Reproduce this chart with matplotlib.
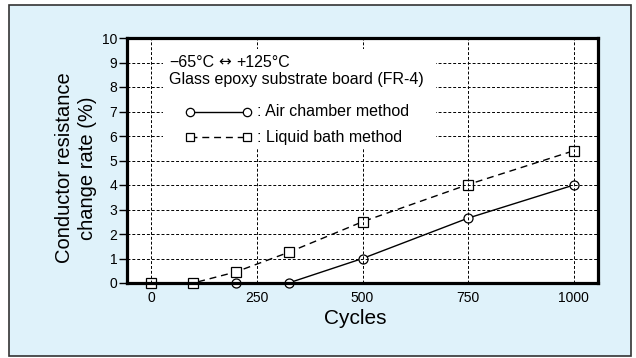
import matplotlib
matplotlib.use("Agg")
import matplotlib.pyplot as plt
from matplotlib.patches import Rectangle

plt.rcParams['font.family'] = ['Liberation Sans', 'DejaVu Sans']

# data
cycles_air = [0, 100, 200, 325, 500, 750, 1000]
air_chamber = [0, 0, 0, 0, 1.0, 2.65, 4.0]
cycles_liq = [0, 100, 200, 325, 500, 750, 1000]
liquid_bath = [0, 0, 0.45, 1.25, 2.5, 4.02, 5.4]
x_ticks = [0, 250, 500, 750, 1000]
y_ticks = list(range(0, 11))

W, H = 636, 358
fig = plt.figure(figsize=(W/100, H/100), dpi=100)
fig.patch.set_facecolor('white')

# light blue panel with dark border
panel = Rectangle((9/W, 1-356/H), 622/W, 351/H, transform=fig.transFigure,
                  facecolor='#dff2fa', edgecolor='#333333', linewidth=1.2,
                  zorder=-5)
fig.patches.append(panel)

ax = fig.add_axes([127/W, 1-283/H, 471/W, 245/H])
ax.set_zorder(2)
ax.set_facecolor('white')
ax.set_xlim(-57, 1057)
ax.set_ylim(0, 10)

ax.set_axisbelow(False)
ax.set_xticks(x_ticks)
ax.set_yticks(y_ticks)
ax.grid(True, color='black', linestyle=(0, (3, 2)), linewidth=0.7)
ax.tick_params(axis='y', direction='out', length=6, width=1, pad=1, labelsize=10)
ax.tick_params(axis='x', length=0, pad=6, labelsize=10)
for s in ax.spines.values():
    s.set_linewidth(2.3)
    s.set_zorder(5)

# white area behind the annotations hides the grid
ax.add_patch(Rectangle((0.077, 0.545), 0.578, 0.41, transform=ax.transAxes,
                       facecolor='white', edgecolor='none', zorder=3))

ax.plot(cycles_air, air_chamber, color='black', linewidth=1.0,
        marker='o', markersize=6.5, markerfacecolor='white',
        markeredgecolor='black', markeredgewidth=0.9, clip_on=False, zorder=2)
ax.plot(cycles_liq, liquid_bath, color='black', linewidth=1.0,
        linestyle=(0, (5, 3.5)), marker='s', markersize=6.5,
        markerfacecolor='white', markeredgecolor='black',
        markeredgewidth=0.9, clip_on=False, zorder=2)

# temperature line, arrow drawn in DejaVu (bigger glyph)
ax.text(0.089, 0.902, '\u221265\u00b0C', transform=ax.transAxes,
        fontsize=11.5, va='center', ha='left', zorder=4)
ax.text(0.207, 0.902, '\u2194', transform=ax.transAxes, family='DejaVu Sans',
        fontsize=11, va='center', ha='center', zorder=4)
ax.text(0.233, 0.902, '+125\u00b0C', transform=ax.transAxes,
        fontsize=11.5, va='center', ha='left', zorder=4)
ax.text(0.089, 0.829, 'Glass epoxy substrate board (FR-4)', transform=ax.transAxes,
        fontsize=11.5, va='center', ha='left', zorder=4)

# legend keys
ax.plot([0.134, 0.255], [0.70, 0.70], transform=ax.transAxes, color='black',
        linewidth=1.0, marker='o', markersize=6, markerfacecolor='white',
        markeredgewidth=0.9, zorder=4)
ax.plot([0.134, 0.255], [0.594, 0.594], transform=ax.transAxes, color='black',
        linewidth=1.0, linestyle=(0, (5, 3.5)), marker='s', markersize=6,
        markerfacecolor='white', markeredgewidth=0.9, zorder=4)
ax.text(0.276, 0.70, ': Air chamber method', transform=ax.transAxes,
        fontsize=11.5, va='center', ha='left', zorder=4)
ax.text(0.276, 0.594, ': Liquid bath method', transform=ax.transAxes,
        fontsize=11.5, va='center', ha='left', zorder=4)

fig.text(355/W, 1-319/H, 'Cycles', fontsize=15, ha='center', va='center')
fig.text(76/W, 1-168/H, 'Conductor resistance\nchange rate (%)', fontsize=14.5,
         ha='center', va='center', rotation=90, linespacing=1.3)

fig.savefig('out.png', dpi=100)
